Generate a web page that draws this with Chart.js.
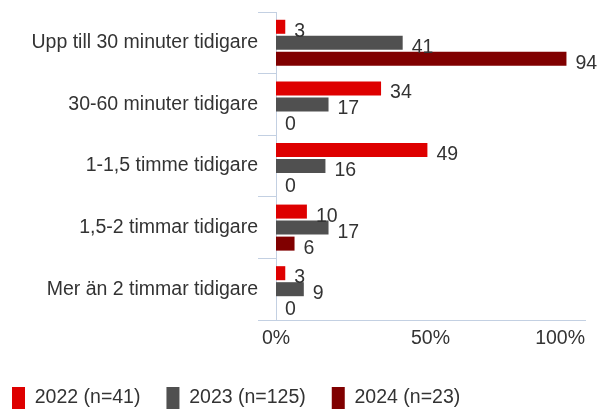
<!DOCTYPE html>
<html>
<head>
<meta charset="utf-8">
<script src="https://cdn.jsdelivr.net/npm/chart.js@4.4.1/dist/chart.umd.min.js"></script>
<style>
  html, body { margin: 0; padding: 0; background: #ffffff; }
  #wrap { width: 608px; height: 414px; }
</style>
</head>
<body>
<div id="wrap"><canvas id="c" width="608" height="414"></canvas></div>
<script>
const categories = [
  "Upp till 30 minuter tidigare",
  "30-60 minuter tidigare",
  "1-1,5 timme tidigare",
  "1,5-2 timmar tidigare",
  "Mer än 2 timmar tidigare"
];
const seriesLabels = ["2022 (n=41)", "2023 (n=125)", "2024 (n=23)"];
const values2022 = [3, 34, 49, 10, 3];
const values2023 = [41, 17, 16, 17, 9];
const values2024 = [94, 0, 0, 6, 0];
const xTickValues = [0, 50, 100];

const FONT = '"Liberation Sans", Arial, sans-serif';
const TEXT = '#333333';
const AXIS = '#C3D0E2';
const COLORS = ['#DE0000', '#505050', '#800000'];

const dataLabels = {
  id: 'dataLabels',
  afterDatasetsDraw(chart) {
    const ctx = chart.ctx;
    ctx.save();
    ctx.font = '19.5px ' + FONT;
    ctx.fillStyle = TEXT;
    ctx.textAlign = 'left';
    ctx.textBaseline = 'alphabetic';
    chart.data.datasets.forEach((ds, i) => {
      const meta = chart.getDatasetMeta(i);
      meta.data.forEach((el, j) => {
        ctx.fillText(String(ds.data[j]), el.x + 9, el.y + 10);
      });
    });
    ctx.restore();
  }
};

const xTickLabels = {
  id: 'xTickLabels',
  afterDraw(chart) {
    const xs = chart.scales.x;
    const ctx = chart.ctx;
    ctx.save();
    ctx.font = '19.5px ' + FONT;
    ctx.fillStyle = TEXT;
    ctx.textAlign = 'left';
    ctx.textBaseline = 'alphabetic';
    xTickValues.forEach(v => {
      const t = v + '%';
      const px = xs.getPixelForValue(v);
      const w = ctx.measureText(t).width;
      let left = px - w / 2;
      if (left + w > xs.right) left = xs.right - w;
      if (left < 0) left = 0;
      ctx.fillText(t, left, chart.chartArea.bottom + 24);
    });
    ctx.restore();
  }
};

new Chart(document.getElementById('c'), {
  type: 'bar',
  data: {
    labels: categories,
    datasets: [
      { label: seriesLabels[0], data: values2022, backgroundColor: COLORS[0] },
      { label: seriesLabels[1], data: values2023, backgroundColor: COLORS[1] },
      { label: seriesLabels[2], data: values2024, backgroundColor: COLORS[2] }
    ]
  },
  options: {
    indexAxis: 'y',
    responsive: false,
    animation: false,
    categoryPercentage: 0.78,
    barPercentage: 0.875,
    layout: { padding: { left: -14, right: 23, top: 12, bottom: -5 } },
    plugins: {
      legend: {
        position: 'bottom',
        align: 'start',
        labels: {
          boxWidth: 13,
          boxHeight: 22,
          padding: 26,
          color: TEXT,
          font: { family: FONT, size: 19.5 }
        }
      },
      tooltip: { enabled: false }
    },
    scales: {
      x: {
        min: 0,
        max: 100,
        grid: { display: false },
        border: { display: true, color: AXIS, width: 1 },
        ticks: { display: false },
        afterFit(scale) { scale.height = 41; }
      },
      y: {
        grid: { display: true, drawOnChartArea: false, drawTicks: true, tickLength: 18, color: AXIS, offset: true },
        border: { display: true, color: AXIS, width: 1 },
        ticks: { color: TEXT, padding: 0, font: { family: FONT, size: 19.5 } },
        afterFit(scale) { scale.width = 290; }
      }
    }
  },
  plugins: [dataLabels, xTickLabels]
});
</script>
</body>
</html>
